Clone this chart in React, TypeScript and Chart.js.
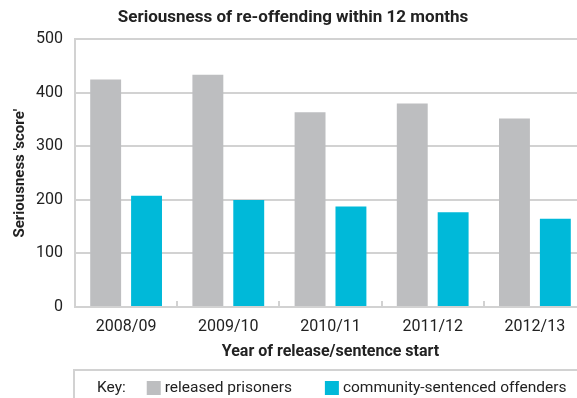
import React, { useEffect, useRef } from "react";
import { Chart, registerables } from "chart.js";

Chart.register(...registerables);

const categories = ["2008/09", "2009/10", "2010/11", "2011/12", "2012/13"];
const releasedPrisoners = [425, 434, 364, 380, 352];
const communityOffenders = [208, 200, 188, 177, 165];
const seriesLabels = ["released prisoners", "community-sentenced offenders"];
const yTicks = [0, 100, 200, 300, 400, 500];

const GREY = "#bdbec0";
const CYAN = "#00b9d9";
const LINE = "#d2d2d2";
const TEXT = "#222222";
const FONT = "Roboto";

const keyPlugin = {
  id: "keyBox",
  afterDraw(chart: any) {
    const ctx = chart.ctx;
    ctx.save();
    ctx.strokeStyle = LINE;
    ctx.lineWidth = 2;
    ctx.beginPath();
    ctx.moveTo(73, 370);
    ctx.lineTo(chart.width, 370);
    ctx.moveTo(74, 369);
    ctx.lineTo(74, chart.height);
    ctx.stroke();
    ctx.font = `15.5px ${FONT}`;
    ctx.fillStyle = TEXT;
    ctx.textBaseline = "middle";
    const cy = 388;
    let x = 97;
    ctx.fillText("Key:", x, cy);
    x += ctx.measureText("Key:").width + 21;
    chart.data.datasets.forEach((ds: any) => {
      ctx.fillStyle = ds.backgroundColor;
      ctx.fillRect(x, cy - 7, 14, 14);
      x += 18;
      ctx.fillStyle = TEXT;
      ctx.fillText(ds.label, x, cy);
      x += ctx.measureText(ds.label).width + 33;
    });
    ctx.restore();
  },
};

export default function App() {
  const ref = useRef<HTMLCanvasElement>(null);
  useEffect(() => {
    const chart = new Chart(ref.current!, {
      type: "bar",
      data: {
        labels: categories,
        datasets: [
          {
            label: seriesLabels[0],
            data: releasedPrisoners,
            backgroundColor: GREY,
            categoryPercentage: 0.8,
            barPercentage: 0.756,
          },
          {
            label: seriesLabels[1],
            data: communityOffenders,
            backgroundColor: CYAN,
            categoryPercentage: 0.8,
            barPercentage: 0.756,
          },
        ],
      },
      options: {
        animation: false,
        responsive: false,
        layout: { padding: { left: 0, right: 0, top: 0, bottom: 29 } },
        plugins: {
          legend: { display: false },
          tooltip: { enabled: false },
          title: {
            display: true,
            text: "Seriousness of re-offending within 12 months",
            color: TEXT,
            font: { family: FONT, size: 17, weight: "bold" },
            padding: { top: 8, bottom: 11 },
          },
        },
        scales: {
          x: {
            grid: {
              offset: true,
              drawOnChartArea: false,
              drawTicks: true,
              tickLength: -6,
              color: LINE,
              lineWidth: 2,
            },
            border: { display: true, color: LINE, width: 2 },
            ticks: {
              color: TEXT,
              font: { family: FONT, size: 16 },
              padding: 16,
              maxRotation: 0,
            },
            title: {
              display: true,
              text: "Year of release/sentence start",
              color: TEXT,
              font: { family: FONT, size: 16, weight: "bold" },
              padding: { top: 0, bottom: 7 },
            },
            afterFit(scale: any) {
              scale.height = 62;
            },
          },
          y: {
            min: 0,
            max: 500,
            afterBuildTicks(scale: any) {
              scale.ticks = yTicks.map((v) => ({ value: v }));
            },
            grid: { color: LINE, lineWidth: 2, drawTicks: false },
            border: { display: true, color: LINE, width: 2 },
            ticks: {
              color: TEXT,
              font: { family: FONT, size: 16 },
              padding: 12,
            },
            title: {
              display: true,
              text: "Seriousness 'score'",
              color: TEXT,
              font: { family: FONT, size: 15, weight: "bold" },
              padding: { top: 11, bottom: 0 },
            },
            afterFit(scale: any) {
              scale.width = 75;
            },
          },
        },
      },
      plugins: [keyPlugin],
    } as any);
    return () => chart.destroy();
  }, []);
  return (
    <div
      style={{
        position: "fixed",
        left: 0,
        top: 0,
        width: 577,
        height: 398,
        overflow: "hidden",
        background: "#fff",
      }}
    >
      <canvas ref={ref} width={586} height={398} style={{ display: "block" }} />
    </div>
  );
}
